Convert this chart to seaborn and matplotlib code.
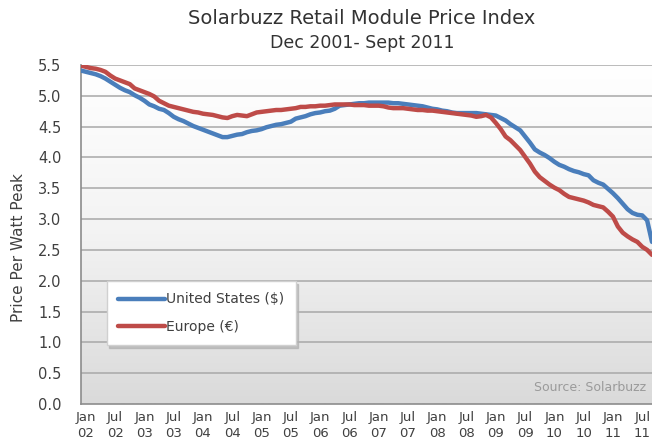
import numpy as np
import pandas as pd
import matplotlib
matplotlib.use("Agg")
import matplotlib.pyplot as plt
from matplotlib.colors import LinearSegmentedColormap
import seaborn as sns

# monthly index prices, Dec 2001 (month 0) .. Sept 2011 (month 117)
us_prices = [
    5.41, 5.39, 5.37, 5.35, 5.32, 5.28, 5.23, 5.18, 5.13, 5.09, 5.06, 5.01,
    4.97, 4.92, 4.86, 4.83, 4.79, 4.77, 4.72, 4.66, 4.62, 4.59, 4.55, 4.51,
    4.48, 4.45, 4.42, 4.39, 4.36, 4.33, 4.33, 4.35, 4.37, 4.38, 4.41, 4.43,
    4.44, 4.46, 4.49, 4.51, 4.53, 4.54, 4.56, 4.58, 4.63, 4.65, 4.67, 4.70,
    4.72, 4.73, 4.75, 4.76, 4.79, 4.84, 4.85, 4.86, 4.87, 4.88, 4.88, 4.89,
    4.89, 4.89, 4.89, 4.89, 4.88, 4.88, 4.87, 4.86, 4.85, 4.84, 4.83, 4.81,
    4.79, 4.78, 4.76, 4.75, 4.73, 4.72, 4.72, 4.72, 4.72, 4.72, 4.71, 4.70,
    4.69, 4.68, 4.64, 4.60, 4.54, 4.49, 4.44, 4.34, 4.24, 4.13, 4.08, 4.04,
    3.99, 3.93, 3.88, 3.85, 3.81, 3.78, 3.76, 3.73, 3.71, 3.63, 3.59, 3.56,
    3.49, 3.42, 3.34, 3.25, 3.16, 3.10, 3.07, 3.06, 2.98, 2.63,
]
eu_prices = [
    5.49, 5.47, 5.45, 5.44, 5.42, 5.39, 5.33, 5.28, 5.25, 5.22, 5.19, 5.12,
    5.09, 5.06, 5.03, 4.99, 4.92, 4.88, 4.84, 4.82, 4.80, 4.78, 4.76, 4.74,
    4.73, 4.71, 4.70, 4.69, 4.67, 4.65, 4.64, 4.67, 4.69, 4.68, 4.67, 4.70,
    4.73, 4.74, 4.75, 4.76, 4.77, 4.77, 4.78, 4.79, 4.80, 4.82, 4.82, 4.83,
    4.83, 4.84, 4.84, 4.85, 4.86, 4.86, 4.86, 4.86, 4.85, 4.85, 4.85, 4.84,
    4.84, 4.84, 4.83, 4.81, 4.80, 4.80, 4.80, 4.79, 4.78, 4.77, 4.77, 4.76,
    4.76, 4.75, 4.74, 4.73, 4.72, 4.71, 4.70, 4.69, 4.68, 4.66, 4.67, 4.69,
    4.65, 4.56, 4.46, 4.34, 4.28, 4.20, 4.12, 4.01, 3.90, 3.77, 3.68, 3.62,
    3.56, 3.51, 3.47, 3.41, 3.36, 3.34, 3.32, 3.30, 3.27, 3.23, 3.21, 3.19,
    3.12, 3.04, 2.88, 2.78, 2.72, 2.67, 2.63, 2.55, 2.50, 2.42,
]
series_names = ["United States ($)", "Europe (\u20ac)"]
tick_months = list(range(1, 117, 6))
tick_labels = [f"{m}\n{y:02d}" for y in range(2, 12) for m in ("Jan", "Jul")]
y_ticks = np.arange(0, 5.51, 0.5)

months = np.arange(len(us_prices))
df = pd.DataFrame({
    "month": np.concatenate([months, months]),
    "price": us_prices + eu_prices,
    "series": [series_names[0]] * len(months) + [series_names[1]] * len(months),
})

sns.set_theme(style="white")
plt.rcParams['font.family'] = ['DejaVu Sans']
text_col = "#404040"

fig = plt.figure(figsize=(6.52, 4.48), dpi=100)
ax = fig.add_axes([0.1242, 0.0982, 0.8758, 0.7567])

# white-to-grey gradient background like the original
grad = LinearSegmentedColormap.from_list("bg", ["#dadada", "#f3f3f3", "#ffffff"])
ax.imshow(np.linspace(0, 1, 256)[:, None], extent=[0, 1, 0, 1], origin="lower",
          transform=ax.transAxes, cmap=grad, aspect="auto", zorder=0)

for yv in y_ticks[1:]:
    ax.axhline(yv, color="#a8a8a8", lw=1.1, zorder=1)

sns.lineplot(data=df, x="month", y="price", hue="series", ax=ax,
             palette=["#4a7ebb", "#be4b48"], linewidth=3.2, zorder=3,
             solid_capstyle="round")

ax.set_xlim(0, 117)
ax.set_ylim(0, 5.5)
ax.set_xticks(tick_months)
ax.set_xticklabels(tick_labels, fontsize=9.5, color=text_col, linespacing=1.3)
ax.set_yticks(y_ticks)
ax.set_yticklabels([f"{v:.1f}" for v in y_ticks], fontsize=10.5, color=text_col)
ax.tick_params(axis="x", length=0, pad=5)
ax.tick_params(axis="y", length=0, pad=14)
ax.set_xlabel("")
ax.set_ylabel("")

for side in ("top", "right"):
    ax.spines[side].set_visible(False)
for side in ("left", "bottom"):
    ax.spines[side].set_color("#8c8c8c")
    ax.spines[side].set_linewidth(1.2)

leg = ax.legend(loc="upper left", bbox_to_anchor=(0.045, 0.362), frameon=True,
                fancybox=False, shadow={"color": "#b0b0b0", "alpha": 0.7},
                fontsize=10, handlelength=3.4, handletextpad=0.1,
                labelspacing=1.0, borderpad=0.8, borderaxespad=0)
leg.get_frame().set_edgecolor("#d0d0d0")
leg.get_frame().set_facecolor("white")
for t in leg.get_texts():
    t.set_color(text_col)
for h in leg.get_lines():
    h.set_linewidth(3.2)
    h.set_solid_capstyle("round")
leg.set_zorder(5)

ax.text(0.99, 0.05, "Source: Solarbuzz", transform=ax.transAxes,
        ha="right", va="center", fontsize=9, color="#9a9a9a")

fig.text(0.555, 0.958, "Solarbuzz Retail Module Price Index", ha="center",
         va="center", fontsize=14, color="#333333")
fig.text(0.555, 0.905, "Dec 2001- Sept 2011", ha="center", va="center",
         fontsize=12.5, color="#333333")
fig.text(0.028, 0.448, "Price Per Watt Peak", rotation=90, ha="center",
         va="center", fontsize=11, color=text_col)

fig.savefig("out.png", dpi=100)
